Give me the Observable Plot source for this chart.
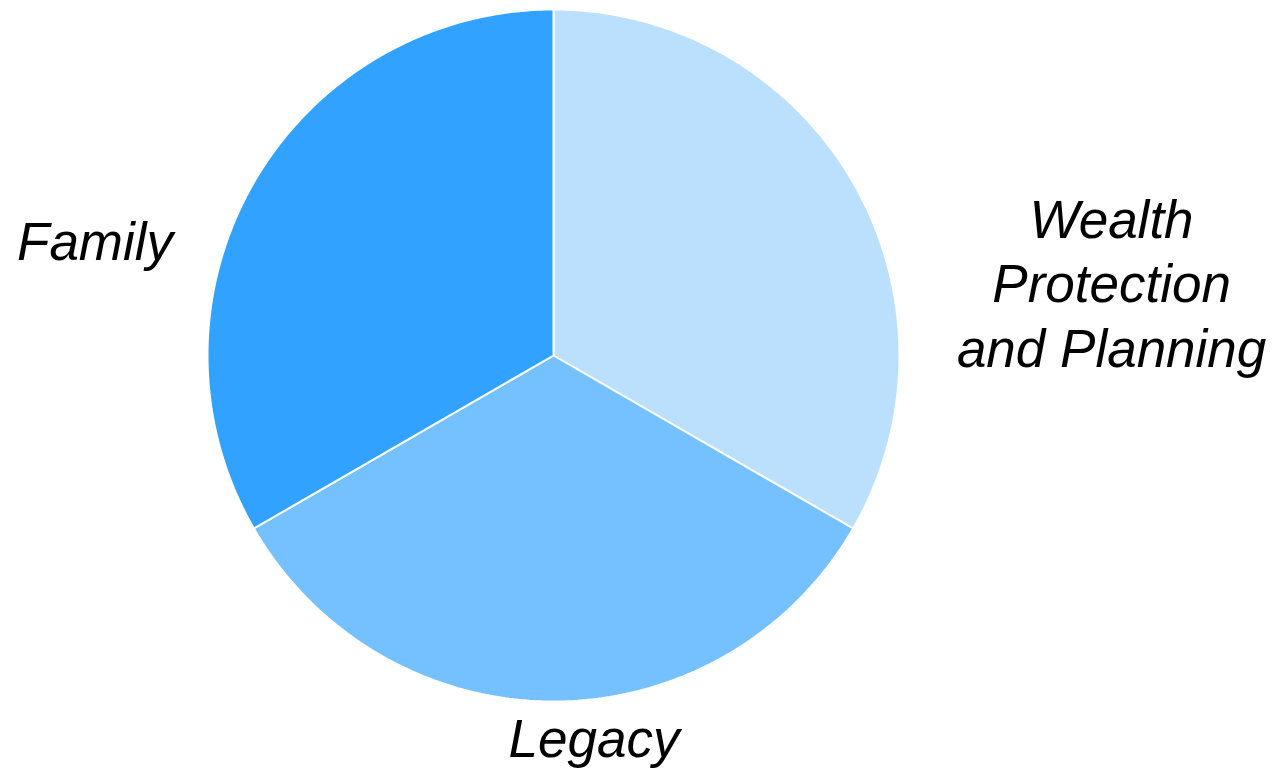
<!DOCTYPE html>
<html>
<head>
<meta charset="utf-8">
<script src="https://cdn.jsdelivr.net/npm/d3@7"></script>
<script src="https://cdn.jsdelivr.net/npm/@observablehq/plot@0.6"></script>
<style>
  html, body { margin: 0; padding: 0; background: #fff; }
  #chart { width: 1275px; height: 771px; }
</style>
</head>
<body>
<div id="chart"></div>
<script>
// ---- data ----
const categories = ["Wealth Protection and Planning", "Legacy", "Family"];
const values = [1, 1, 1];
const labelTexts = ["Wealth\nProtection\nand Planning", "Legacy", "Family"];
const sliceColors = ["#BBE0FE", "#75C1FF", "#31A2FF"];

// ---- layout (units of pie radius, pie centre at 0,0) ----
const W = 1275, H = 771;
const cx = 553, cy = 355, R = 346;
const labelPlacement = {
  "Wealth Protection and Planning": [1.613, 0.2133],
  "Legacy": [0.117, -1.1017],
  "Family": [-1.325, 0.3347]
};

const table = categories.map((c, i) => ({category: c, value: values[i], label: labelTexts[i], color: sliceColors[i]}));
const arcs = d3.pie().sort(null).value(d => d.value)(table);

function slicePoints(a) {
  const n = 180;
  const pts = [{x: 0, y: 0}];
  for (let k = 0; k <= n; k++) {
    const t = a.startAngle + (a.endAngle - a.startAngle) * k / n;
    pts.push({x: Math.sin(t), y: Math.cos(t)});
  }
  return pts;
}

const sliceMarks = arcs.map(a =>
  Plot.line(slicePoints(a), {
    x: "x", y: "y", curve: "linear-closed",
    fill: a.data.color, stroke: "white", strokeWidth: 2, strokeLinejoin: "miter"
  })
);

const labelData = table.map(d => ({label: d.label, x: labelPlacement[d.category][0], y: labelPlacement[d.category][1]}));

const chart = Plot.plot({
  width: W, height: H,
  marginTop: 0, marginRight: 0, marginBottom: 0, marginLeft: 0,
  x: {domain: [(0 - cx) / R, (W - cx) / R], axis: null},
  y: {domain: [(cy - H) / R, cy / R], axis: null},
  style: {fontFamily: "'Liberation Sans', Arial, sans-serif", background: "white"},
  marks: [
    ...sliceMarks,
    Plot.text(labelData, {
      x: "x", y: "y", text: "label",
      fontSize: 53, fontStyle: "italic", fill: "black",
      lineHeight: 1.226, textAnchor: "middle"
    })
  ]
});
document.getElementById("chart").appendChild(chart);
</script>
</body>
</html>
